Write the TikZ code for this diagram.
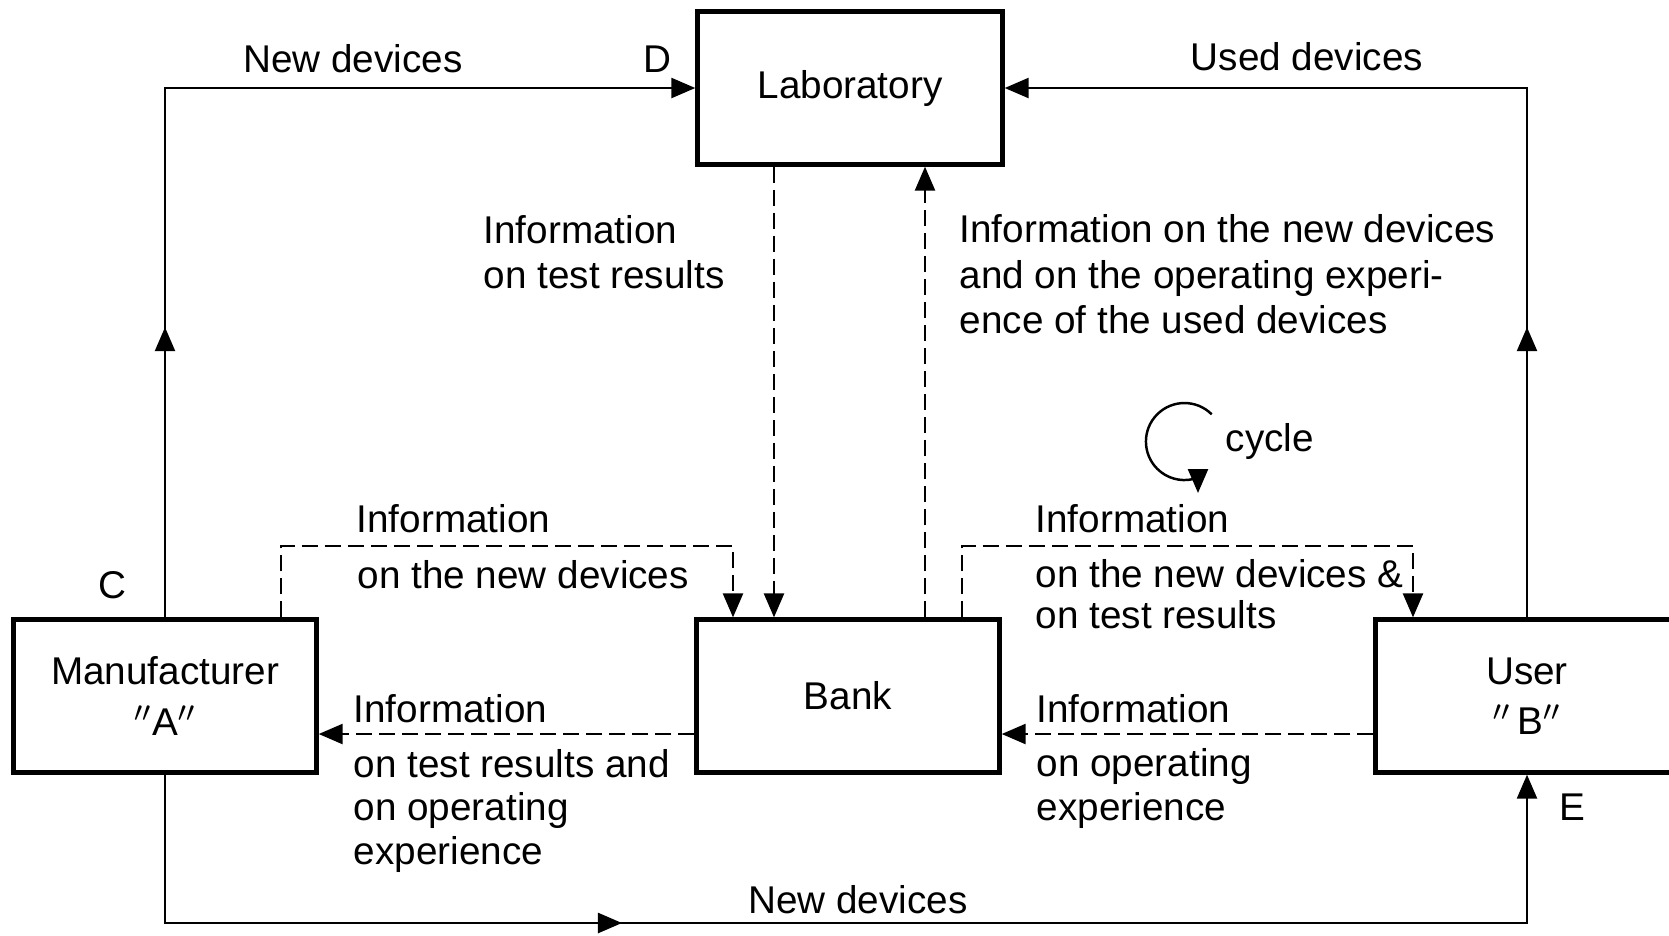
\documentclass[tikz,border=0pt]{standalone}
\usepackage{fontspec}
\setmainfont{Liberation Sans}
\usetikzlibrary{arrows.meta,decorations.markings}

\begin{document}
\begin{tikzpicture}[x=0.01cm, y=-0.01cm,
    font=\fontsize{11pt}{11.4pt}\selectfont,
    box/.style={shape=rectangle, draw, line width=1.2pt, minimum width=3.03cm, minimum height=1.53cm, align=center},
    flow/.style={line width=0.7pt},
    info/.style={line width=0.7pt, dash pattern=on 0.16cm off 0.07cm},
    tip/.style={-{Triangle[length=0.24cm, width=0.2cm]}},
    txt/.style={inner sep=0pt, align=left, anchor=base west},
    wide/.style={font=\fontsize{11pt}{12.8pt}\selectfont},
    loose/.style={font=\fontsize{11pt}{12.35pt}\selectfont},
    arrowat/.style={postaction={decorate, decoration={markings, mark=at position #1 with {\arrow{Triangle[length=0.24cm, width=0.2cm]}}}}}]
    \useasboundingbox (0,0) rectangle (1669,935);
    \clip (0,0) rectangle (1669,935);
    \node[box, minimum width=3.05cm] (lab) at (850,88) {Laboratory};
    \node[box] (bank) at (848,696) {Bank};
    \node[box] (man) at (165,696) {Manufacturer\\[3pt]$''$A$''$};
    \node[box] (user) at (1527,696) {User\\[3pt]$''$\,B$''$};
    \coordinate (boty) at (0,923);
    \coordinate (backy) at (0,734);
    \coordinate (dn) at (774,0);
    \coordinate (up) at (925,0);
    \coordinate (ma) at (281,546);
    \coordinate (mb) at (733,546);
    \coordinate (ba) at (962,546);
    \coordinate (bb) at (1413,546);
    \draw[flow, tip, arrowat=2.9cm] (man.north) |- (lab.west);
    \draw[flow, tip, arrowat=2.9cm] (user.north) |- (lab.east);
    \draw[flow, tip, arrowat=6.05cm] (man.south) -- (man.south |- boty) -- (user.south |- boty) -- (user.south);
    \draw[info, tip] (dn |- lab.south) -- (dn |- bank.north);
    \draw[info, tip] (up |- bank.north) -- (up |- lab.south);
    \draw[info, tip] (ma |- man.north) -- (ma) -- (mb) -- (mb |- bank.north);
    \draw[info, tip] (ba |- bank.north) -- (ba) -- (bb) -- (bb |- user.north);
    \draw[info, tip] (bank.west |- backy) -- (man.east |- backy);
    \draw[info, tip] (user.west |- backy) -- (bank.east |- backy);
    \node[anchor=base] (nd1) at (353,72) {New devices};
    \node[anchor=base] (d) at (657,72) {D};
    \node[anchor=base] (ud) at (1307,70) {Used devices};
    \node[txt, wide] (i1) at (483,288) {Information\\on test results};
    \node[txt, wide] (i2) at (959,333) {Information on the new devices\\and on the operating experi-\\ence of the used devices};
    \node[txt] (cyc) at (1225,451) {cycle};
    \draw[flow] (1211.7,414.3) arc[start angle=45, end angle=283, radius=0.385cm];
    \draw[flow, tip] (1198,470) -- (1198,493);
    \node[txt] (i3) at (356,532) {Information};
    \node[txt] (i3b) at (357,588) {on the new devices};
    \node[txt] (i4) at (1035,532) {Information};
    \node[txt] (i4b) at (1035,628) {on the new devices \&\\on test results};
    \node[anchor=base] (c) at (112,598) {C};
    \node[txt] (i5) at (353,722) {Information};
    \node[txt, loose] (i5b) at (353,864) {on test results and\\on operating\\experience};
    \node[txt] (i6) at (1036,722) {Information};
    \node[txt, loose] (i6b) at (1036,820) {on operating\\experience};
    \node[anchor=base] (e) at (1572,820) {E};
    \node[anchor=base] (nd2) at (858,913) {New devices};
\end{tikzpicture}
\end{document}
